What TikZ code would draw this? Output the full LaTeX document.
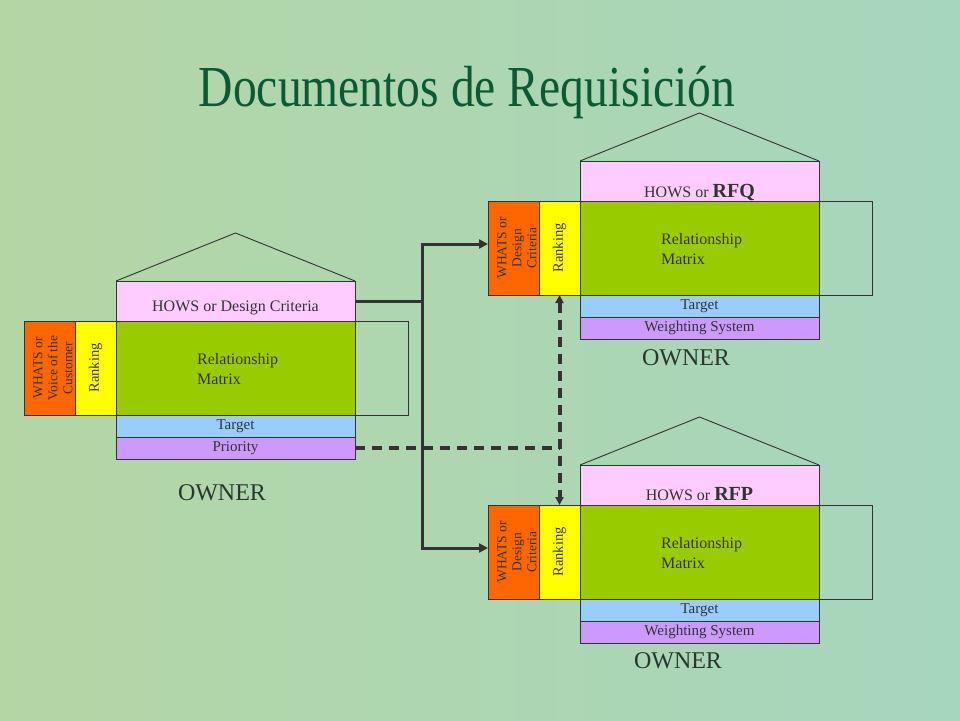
\documentclass[tikz,border=0pt]{standalone}
\usepackage{fontspec}
\setmainfont{Liberation Serif}
\usetikzlibrary{arrows.meta}
\definecolor{howsc}{HTML}{FFCCFF}
\definecolor{matc}{HTML}{99CC00}
\definecolor{whatc}{HTML}{FF6600}
\definecolor{rankc}{HTML}{FFFF00}
\definecolor{targc}{HTML}{99CCFF}
\definecolor{botc}{HTML}{CC99FF}
\definecolor{linec}{HTML}{333333}
\definecolor{txtc}{HTML}{333333}
\definecolor{ownc}{RGB}{40,56,46}
\definecolor{titlec}{RGB}{12,90,52}
\definecolor{bgA}{RGB}{180,214,165}
\definecolor{bgB}{RGB}{166,214,190}
\newcommand{\setfs}[2]{\fontsize{#1}{#2}\selectfont}
\tikzset{
  box/.style={draw=linec, line width=1pt, inner sep=0pt, outer sep=0pt, anchor=north west, text=txtc},
  outl/.style={draw=linec, line width=0.9pt, inner sep=0pt, outer sep=0pt, anchor=north west},
  lbl/.style={text=txtc, inner sep=0pt},
  roof/.style={draw=linec, line width=0.9pt},
  conn/.style={draw=linec, line width=3pt},
  dconn/.style={draw=linec, line width=4pt, dash pattern=on 10pt off 7pt},
  tip/.style={-{Triangle[length=9pt,width=9pt]}},
  owner/.style={text=ownc, anchor=base, font=\setfs{24}{26}, inner sep=0pt}
}
% #1 prefix, #2 X, #3 Y (top-left of matrix), #4 whats text, #5 hows text, #6 hows baseline offset, #7 bottom text
\newcommand{\qfdhouse}[7]{%
  \node[box, fill=howsc, minimum width=239, minimum height=40] (#1-hows) at (#2,#3-40) {};
  \coordinate (#1-apex) at (#2+119.5,#3-88);
  \draw[roof] (#1-hows.north west) -- (#1-apex) -- (#1-hows.north east);
  \node[outl, minimum width=53, minimum height=94] (#1-ext) at (#2+239,#3) {};
  \node[box, fill=matc, minimum width=239, minimum height=94] (#1-mat) at (#2,#3) {};
  \node[box, fill=whatc, minimum width=51, minimum height=94] (#1-whats) at (#2-92,#3) {};
  \node[box, fill=rankc, minimum width=41, minimum height=94] (#1-rank) at (#2-41,#3) {};
  \node[box, fill=targc, minimum width=239, minimum height=22, font=\setfs{15}{16}] (#1-targ) at (#2,#3+94) {\raisebox{1.5pt}{Target}};
  \node[box, fill=botc, minimum width=239, minimum height=22, font=\setfs{15}{16}] (#1-bot) at (#2,#3+116) {#7};
  \node[lbl, anchor=base, font=\setfs{16}{18}] (#1-howst) at (#2+119.5,#3-#6) {#5};
  \node[lbl, rotate=90, align=center, font=\setfs{13.5}{15}] (#1-whatst) at ([xshift=3.5pt]#1-whats.center) {#4};
  \node[lbl, rotate=90, font=\setfs{14.5}{16}] (#1-rankt) at (#1-rank.center) {Ranking};
  \node[lbl, anchor=west, align=left, font=\setfs{16}{20}] (#1-matt) at (#2+81,#3+48) {Relationship\\Matrix};
}
\begin{document}
\begin{tikzpicture}[x=1pt,y=-1pt]
\useasboundingbox (0,0) rectangle (960,720);
\shade[left color=bgA, right color=bgB] (0,0) rectangle (960,720);

\node[anchor=base, text=titlec, font=\setfs{58}{60}, inner sep=0pt] (title) at (467,106) {\scalebox{0.82}[1]{Documentos de Requisición}};

\qfdhouse{L}{116}{321}{WHATS or\\Voice of the\\Customer}{HOWS or Design Criteria}{10}{Priority}
\qfdhouse{RA}{580}{201}{WHATS or\\Design\\Criteria}{HOWS or {\setfs{20}{22}\bfseries RFQ}}{4}{Weighting System}
\qfdhouse{RB}{580}{505}{WHATS or\\Design\\Criteria}{HOWS or {\setfs{20}{22}\bfseries RFP}}{5}{Weighting System}

\node[owner] (L-own) at (222,500) {OWNER};
\node[owner] (RA-own) at (686,365) {OWNER};
\node[owner] (RB-own) at (678,668) {OWNER};

% solid connectors
\coordinate (jn) at (422,301);
\draw[conn] (L-hows.east) -- (jn);
\draw[conn, tip] (jn) |- ([yshift=4pt]RA-whats.west);
\draw[conn, tip] (jn) |- ([yshift=4pt]RB-whats.west);

% dashed connectors
\coordinate (dj) at (L-bot.east -| RA-rank.south);
\draw[dconn] (L-bot.east) -- (dj);
\draw[dconn, {Triangle[length=8pt,width=8pt]}-{Triangle[length=8pt,width=8pt]}] (RA-rank.south) -- (RB-rank.north);
\end{tikzpicture}
\end{document}
